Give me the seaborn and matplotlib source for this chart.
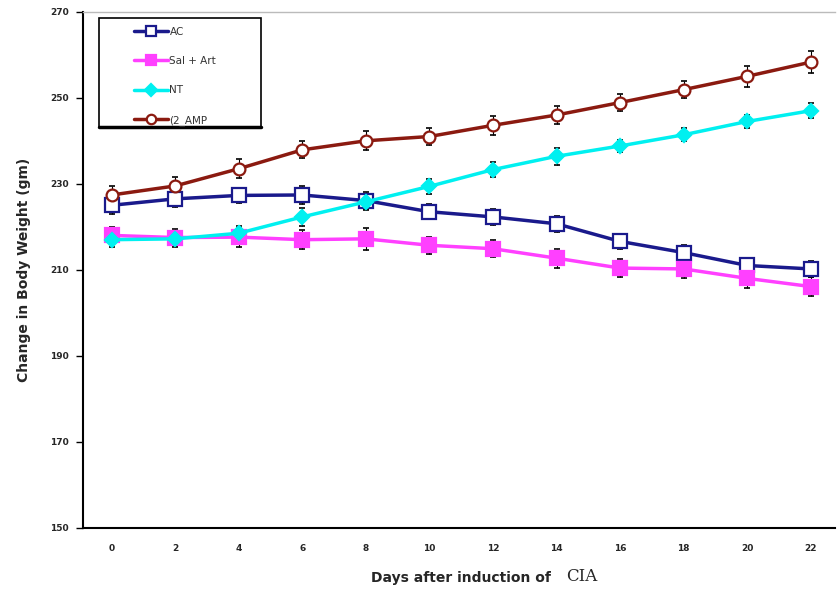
import pandas as pd
import matplotlib.pyplot as plt
import seaborn as sns
from matplotlib.patches import Rectangle

# Values
days = [0, 2, 4, 6, 8, 10, 12, 14, 16, 18, 20, 22]
groups = ['AC', 'Sal + Art', 'NT', '(2_AMP']

ac = [225.0, 226.5, 227.3, 227.4, 226.1, 223.5, 222.3, 220.7, 216.6, 214.0, 211.0, 210.2]
sal_art = [218.0, 217.5, 217.6, 217.0, 217.2, 215.7, 214.9, 212.7, 210.4, 210.2, 208.0, 206.1]
nt = [217.0, 217.2, 218.5, 222.3, 225.8, 229.4, 233.3, 236.4, 238.8, 241.4, 244.5, 247.0]
amp = [227.4, 229.5, 233.5, 237.9, 240.0, 241.0, 243.6, 246.0, 248.9, 251.9, 255.0, 258.3]

ac_err = [2.0, 2.0, 1.8, 2.0, 2.0, 1.8, 1.8, 1.8, 1.8, 1.8, 1.8, 1.8]
sal_art_err = [2.0, 2.0, 2.2, 2.2, 2.5, 2.0, 2.0, 2.2, 2.0, 2.0, 2.2, 2.2]
nt_err = [1.8, 1.8, 1.8, 2.0, 1.8, 1.8, 1.8, 2.0, 1.5, 1.5, 1.5, 1.8]
amp_err = [2.0, 2.0, 2.2, 2.0, 2.2, 2.0, 2.2, 2.2, 2.0, 2.0, 2.5, 2.5]

y_ticks = [150, 170, 190, 210, 230, 250, 270]

values = [ac, sal_art, nt, amp]
errors = [ac_err, sal_art_err, nt_err, amp_err]
df = pd.DataFrame({
    'Day': days * len(groups),
    'Weight': sum(values, []),
    'Err': sum(errors, []),
    'Group': [g for g in groups for _ in days],
})

colors = {'AC': '#1a1a8c', 'Sal + Art': '#ff40ff', 'NT': '#00f0f0', '(2_AMP': '#8b1a10'}
markers = {'AC': 's', 'Sal + Art': 's', 'NT': 'D', '(2_AMP': 'o'}
faces = {'AC': 'white', 'Sal + Art': '#ff40ff', 'NT': '#00f0f0', '(2_AMP': 'white'}
msize = {'AC': 9.5, 'Sal + Art': 9.5, 'NT': 7.5, '(2_AMP': 8.5}

sns.set_style('white')
fig = plt.figure(figsize=(8.38, 5.91), dpi=100)
ax = fig.add_axes([0.099, 0.107, 0.897, 0.873])

for g in groups:
    sub = df[df['Group'] == g]
    ax.errorbar(sub['Day'], sub['Weight'], yerr=sub['Err'], fmt='none',
                ecolor='black', elinewidth=0.8, capsize=2.5, capthick=1.2, zorder=2)
    sns.lineplot(data=sub, x='Day', y='Weight', ax=ax, color=colors[g], lw=2.5,
                 marker=markers[g], markersize=msize[g], markerfacecolor=faces[g],
                 markeredgecolor=colors[g], markeredgewidth=1.6, label=g, zorder=3)

ax.set_xticks(days)
ax.set_xticks([d + 1 for d in days[:-1]], minor=True)
ax.set_xticklabels([str(d) for d in days], fontsize=6.5, fontweight='bold')
ax.set_yticks(y_ticks)
ax.set_yticklabels([str(v) for v in y_ticks], fontsize=6.5, fontweight='bold')
ax.set_xlim(-0.9, 22.75)
ax.set_ylim(150, 270)
ax.tick_params(axis='x', which='major', length=0, pad=12)
ax.tick_params(axis='x', which='minor', length=4, width=1, direction='in', color='black')
ax.tick_params(axis='y', which='major', length=5, width=1, direction='out', color='black',
               left=True, pad=5)

for s in ['left', 'bottom']:
    ax.spines[s].set_color('black')
    ax.spines[s].set_linewidth(1.5)
ax.spines['right'].set_visible(False)
ax.spines['top'].set_color('#bbbbbb')
ax.spines['top'].set_linewidth(1.0)

ax.set_xlabel('')
ax.set_ylabel('Change in Body Weight (gm)', fontsize=10, fontweight='bold', labelpad=14)
fig.text(0.657, 0.022, 'Days after induction of', ha='right', va='center',
         fontsize=10, fontweight='bold')
fig.text(0.676, 0.025, 'CIA', ha='left', va='center', fontsize=12, family='serif')

# legend box drawn by hand, entries placed inside it
ax.add_patch(Rectangle((0.022, 0.777), 0.215, 0.211, transform=ax.transAxes,
                       fill=False, edgecolor='black', lw=1.2, zorder=5))
ax.plot([0.022, 0.237], [0.777, 0.777], transform=ax.transAxes, color='black', lw=2.5,
        zorder=5)
leg = ax.legend(loc='upper left', bbox_to_anchor=(0.068, 0.971), fontsize=7.5,
                frameon=False, labelspacing=1.85, handlelength=3.3, handletextpad=0.1,
                borderpad=0.0, borderaxespad=0.0, markerscale=0.8)
for t in leg.get_texts():
    t.set_color('#333333')

fig.savefig('out.png', dpi=100)
